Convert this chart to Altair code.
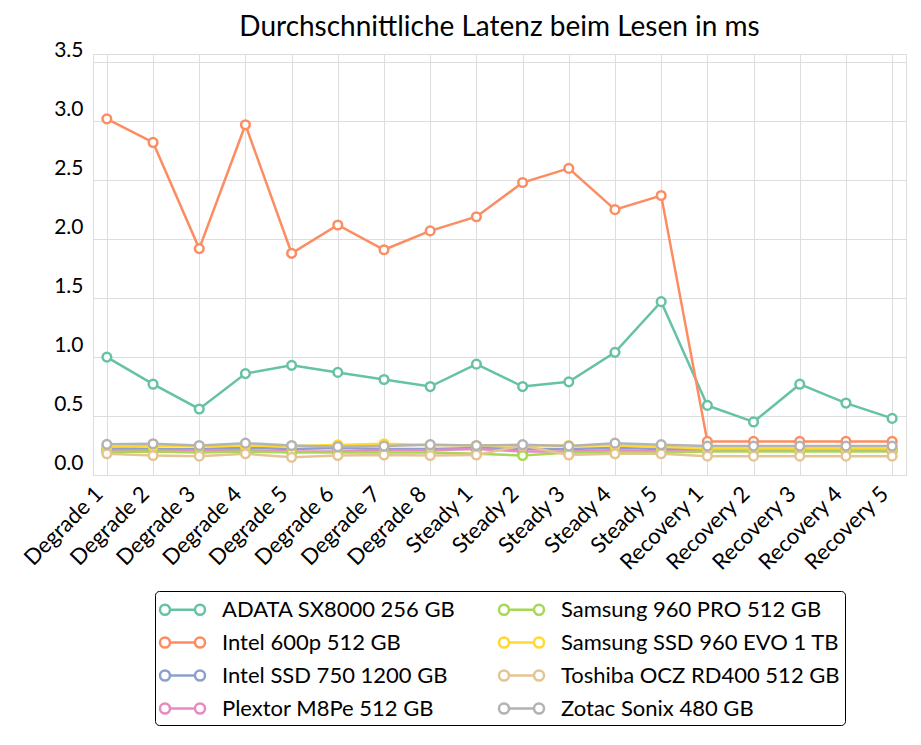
import altair as alt
import pandas as pd

categories = ["Degrade 1", "Degrade 2", "Degrade 3", "Degrade 4", "Degrade 5", "Degrade 6",
              "Degrade 7", "Degrade 8", "Steady 1", "Steady 2", "Steady 3", "Steady 4",
              "Steady 5", "Recovery 1", "Recovery 2", "Recovery 3", "Recovery 4", "Recovery 5"]

series_names = ["ADATA SX8000 256 GB", "Intel 600p 512 GB", "Intel SSD 750 1200 GB",
                "Plextor M8Pe 512 GB", "Samsung 960 PRO 512 GB", "Samsung SSD 960 EVO 1 TB",
                "Toshiba OCZ RD400 512 GB", "Zotac Sonix 480 GB"]

colors = ["#66c2a5", "#fc8d62", "#8da0cb", "#e78ac3", "#a6d854", "#ffd92f", "#e5c494", "#b3b3b3"]

adata = [1.00, 0.77, 0.56, 0.86, 0.93, 0.87, 0.81, 0.75, 0.94, 0.75, 0.79, 1.04, 1.47,
         0.59, 0.45, 0.77, 0.61, 0.48]
intel600p = [3.02, 2.82, 1.92, 2.97, 1.88, 2.12, 1.91, 2.07, 2.19, 2.48, 2.60, 2.25, 2.37,
             0.285, 0.285, 0.285, 0.285, 0.285]
intel750 = [0.23, 0.22, 0.22, 0.23, 0.22, 0.23, 0.22, 0.22, 0.23, 0.22, 0.22, 0.23, 0.22,
            0.215, 0.215, 0.215, 0.215, 0.215]
plextor = [0.21, 0.21, 0.21, 0.21, 0.20, 0.20, 0.21, 0.21, 0.22, 0.20, 0.20, 0.21, 0.20,
           0.21, 0.21, 0.21, 0.21, 0.21]
s960pro = [0.195, 0.20, 0.19, 0.20, 0.19, 0.19, 0.19, 0.19, 0.18, 0.165, 0.19, 0.19, 0.19,
           0.20, 0.20, 0.20, 0.20, 0.20]
s960evo = [0.24, 0.245, 0.245, 0.25, 0.245, 0.255, 0.265, 0.255, 0.25, 0.25, 0.25, 0.25, 0.24,
           0.225, 0.225, 0.225, 0.225, 0.225]
toshiba = [0.18, 0.165, 0.16, 0.18, 0.15, 0.165, 0.17, 0.165, 0.17, 0.25, 0.17, 0.18, 0.18,
           0.16, 0.16, 0.16, 0.16, 0.16]
zotac = [0.26, 0.265, 0.25, 0.27, 0.25, 0.24, 0.245, 0.257, 0.25, 0.257, 0.245, 0.27, 0.257,
         0.245, 0.245, 0.245, 0.245, 0.245]

all_values = [adata, intel600p, intel750, plextor, s960pro, s960evo, toshiba, zotac]

rows = []
for si, (name, vals) in enumerate(zip(series_names, all_values)):
    for ci, (cat, v) in enumerate(zip(categories, vals)):
        rows.append({"Phase": cat, "Latenz": v, "SSD": name, "order": si})
df = pd.DataFrame(rows)

FONT = "Lato"


def circle_path(cx, r):
    k = 0.5523 * r
    return (f"M{cx + r:.3f},0"
            f"C{cx + r:.3f},{k:.3f} {cx + k:.3f},{r:.3f} {cx:.3f},{r:.3f}"
            f"C{cx - k:.3f},{r:.3f} {cx - r:.3f},{k:.3f} {cx - r:.3f},0"
            f"C{cx - r:.3f},{-k:.3f} {cx - k:.3f},{-r:.3f} {cx:.3f},{-r:.3f}"
            f"C{cx + k:.3f},{-r:.3f} {cx + r:.3f},{-k:.3f} {cx + r:.3f},0Z")


# legend symbol: short line with an open circle at each end
symbol_path = "M-1.042,0L1.042,0" + circle_path(-1.458, 0.417) + circle_path(1.458, 0.417)

chart = alt.Chart(df).mark_line(
    strokeWidth=2.5,
    point=alt.OverlayMarkDef(filled=False, fill="white", size=75, strokeWidth=2.5),
).encode(
    x=alt.X("Phase:N", sort=categories, title=None,
            scale=alt.Scale(type="point", padding=0.3),
            axis=alt.Axis(labelAngle=-45, labelFontSize=22, labelFont=FONT,
                          labelColor="black", domain=False, ticks=False,
                          labelPadding=8, labelOffset=-15, gridColor="#dddddd", grid=True)),
    y=alt.Y("Latenz:Q", title=None,
            scale=alt.Scale(domain=[0, 3.57], nice=False, zero=True),
            axis=alt.Axis(values=[0, 0.5, 1.0, 1.5, 2.0, 2.5, 3.0, 3.5], format=".1f",
                          labelFontSize=21, labelFont=FONT, labelColor="black",
                          domain=False, ticks=False, labelPadding=10, labelOffset=-12,
                          gridColor="#dddddd")),
    color=alt.Color("SSD:N", scale=alt.Scale(domain=series_names, range=colors),
                    legend=alt.Legend(title=None, orient="none", legendX=62, legendY=537,
                                      columns=2, direction="vertical",
                                      symbolType=symbol_path, symbolSize=576,
                                      symbolOffset=9,
                                      symbolStrokeWidth=2.5, symbolFillColor="white",
                                      labelFontSize=22, labelFont=FONT, labelColor="black",
                                      labelOffset=26, labelLimit=400,
                                      columnPadding=38, rowPadding=8,
                                      padding=5, strokeColor="black",
                                      cornerRadius=4, fillColor="white")),
    order=alt.Order("order:Q"),
).properties(
    width=813,
    height=421,
    title=alt.Title("Durchschnittliche Latenz beim Lesen in ms", fontSize=28, font=FONT,
                    fontWeight="normal", color="black", anchor="middle", offset=-3),
    autosize=alt.AutoSizeParams(type="none"),
    padding={"left": 85, "top": 46, "right": 7, "bottom": 262},
).configure_view(
    stroke="#dddddd", strokeWidth=2
).configure(background="white")

chart.save("out.html", embed_options={"renderer": "svg", "actions": False})
